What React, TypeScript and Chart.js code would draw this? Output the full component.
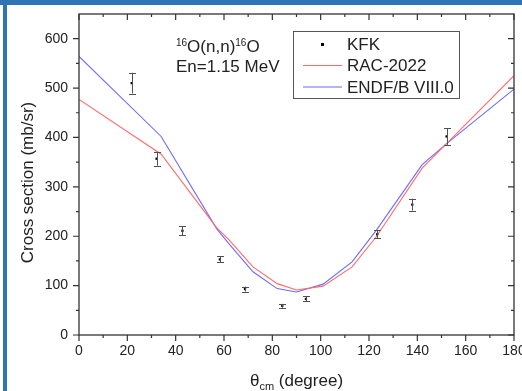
import React, { useEffect, useRef } from "react";
import { Chart, registerables } from "chart.js";

Chart.register(...registerables);

// ---- data ----
const kfkAngles = [21.8, 32.1, 42.8, 58.3, 68.7, 84.1, 93.9, 123.4, 137.9, 152.1];
const kfkValues = [510, 357, 211, 153, 93, 59, 73, 204, 264, 402];
const kfkErrors = [21, 14, 9, 6, 5, 4, 5, 8, 12, 17];

const racAngles = [0, 34, 57, 62, 72, 82, 90, 101, 113, 123, 142, 152, 180];
const racValues = [477, 366, 217, 193, 138, 104, 91, 99, 138, 199, 338, 387, 525];

const endfAngles = [0, 34, 57, 62, 72, 82, 90, 101, 113, 123, 142, 152, 180];
const endfValues = [564, 402, 215, 185, 128, 94, 87, 103, 148, 212, 345, 387, 498];

const xTickValues = [0, 20, 40, 60, 80, 100, 120, 140, 160, 180];
const yTickValues = [0, 100, 200, 300, 400, 500, 600];

const seriesLabels = ["KFK", "RAC-2022", "ENDF/B VIII.0"];

const FONT = "'Liberation Sans', Arial, sans-serif";

const decorPlugin = {
  id: "decor",
  afterDatasetsDraw(chart: any) {
    const ctx = chart.ctx;
    const xs = chart.scales.x;
    const ys = chart.scales.y;

    // error bars
    ctx.save();
    ctx.strokeStyle = "#505050";
    ctx.lineWidth = 1;
    kfkAngles.forEach((a, i) => {
      const px = Math.round(xs.getPixelForValue(a)) + 0.5;
      const y1 = ys.getPixelForValue(kfkValues[i] - kfkErrors[i]);
      const y2 = ys.getPixelForValue(kfkValues[i] + kfkErrors[i]);
      ctx.beginPath();
      ctx.moveTo(px, y1);
      ctx.lineTo(px, y2);
      ctx.moveTo(px - 3.5, Math.round(y1) + 0.5);
      ctx.lineTo(px + 3.5, Math.round(y1) + 0.5);
      ctx.moveTo(px - 3.5, Math.round(y2) + 0.5);
      ctx.lineTo(px + 3.5, Math.round(y2) + 0.5);
      ctx.stroke();
    });
    ctx.restore();
  },
  afterDraw(chart: any) {
    const ctx = chart.ctx;
    const xs = chart.scales.x;
    const ys = chart.scales.y;
    const { left, right, top, bottom } = chart.chartArea;
    ctx.save();
    // frame
    ctx.strokeStyle = "#333";
    ctx.lineWidth = 1.3;
    ctx.strokeRect(left, top, right - left, bottom - top);
    ctx.lineWidth = 1.2;
    ctx.beginPath();
    for (let v = 0; v <= 180; v += 10) {
      const px = xs.getPixelForValue(v);
      const len = v % 20 === 0 ? 6 : 3;
      ctx.moveTo(px, bottom);
      ctx.lineTo(px, bottom + len);
      ctx.moveTo(px, top);
      ctx.lineTo(px, top + len);
    }
    for (let v = 0; v <= 600; v += 50) {
      const py = ys.getPixelForValue(v);
      const len = v % 100 === 0 ? 6 : 3;
      ctx.moveTo(left, py);
      ctx.lineTo(left - len, py);
      ctx.moveTo(right, py);
      ctx.lineTo(right - len, py);
    }
    ctx.stroke();

    // axis titles
    ctx.fillStyle = "#222";
    ctx.font = `17px ${FONT}`;
    ctx.textBaseline = "middle";
    ctx.textAlign = "center";
    ctx.save();
    ctx.translate(left - 51, (top + bottom) / 2 + 8);
    ctx.rotate(-Math.PI / 2);
    ctx.fillText("Cross section (mb/sr)", 0, 0);
    ctx.restore();

    ctx.textAlign = "left";
    ctx.textBaseline = "alphabetic";
    const t1 = "θ", t2 = "cm", t3 = " (degree)";
    ctx.font = `17px ${FONT}`;
    const w1 = ctx.measureText(t1).width;
    const w3 = ctx.measureText(t3).width;
    ctx.font = `11px ${FONT}`;
    const w2 = ctx.measureText(t2).width;
    const total = w1 + w2 + w3;
    let sx = (left + right) / 2 - total / 2;
    const by = bottom + 51;
    ctx.font = `17px ${FONT}`;
    ctx.fillText(t1, sx, by);
    sx += w1;
    ctx.font = `11px ${FONT}`;
    ctx.fillText(t2, sx, by + 4);
    sx += w2;
    ctx.font = `17px ${FONT}`;
    ctx.fillText(t3, sx, by);

    // annotation
    let ax = left + 97;
    const ab1 = top + 38;
    const parts: [string, boolean][] = [["16", true], ["O(n,n)", false], ["16", true], ["O", false]];
    parts.forEach(([s, sup]) => {
      ctx.font = sup ? `10px ${FONT}` : `17px ${FONT}`;
      ctx.fillText(s, ax, sup ? ab1 - 6 : ab1);
      ax += ctx.measureText(s).width;
    });
    ctx.font = `17px ${FONT}`;
    ctx.fillText("En=1.15 MeV", left + 97, top + 58);

    // legend
    const lx = 293.5, ly = 31.5, lw = 166, lh = 67;
    ctx.fillStyle = "#fff";
    ctx.fillRect(lx, ly, lw, lh);
    ctx.strokeStyle = "#555";
    ctx.lineWidth = 1;
    ctx.strokeRect(lx, ly, lw, lh);
    const rows = [44.5, 65.5, 87];
    const ds = chart.data.datasets;
    ctx.fillStyle = "#000";
    ctx.fillRect(321, rows[0] - 1.5, 3, 3);
    ctx.lineWidth = 1.2;
    ctx.strokeStyle = ds[1].borderColor;
    ctx.beginPath();
    ctx.moveTo(303, rows[1]);
    ctx.lineTo(342, rows[1]);
    ctx.stroke();
    ctx.strokeStyle = ds[2].borderColor;
    ctx.beginPath();
    ctx.moveTo(303, rows[2]);
    ctx.lineTo(342, rows[2]);
    ctx.stroke();
    ctx.fillStyle = "#222";
    ctx.font = `17px ${FONT}`;
    ctx.textBaseline = "middle";
    ds.forEach((d: any, i: number) => {
      ctx.fillText(d.label, 347, rows[i] + 1);
    });
    ctx.restore();
  },
};

export default function App() {
  const ref = useRef<HTMLCanvasElement>(null);
  useEffect(() => {
    if (!ref.current) return;
    const chart = new Chart(ref.current, {
      type: "scatter",
      data: {
        datasets: [
          {
            label: seriesLabels[0],
            data: kfkAngles.map((a, i) => ({ x: a, y: kfkValues[i] })),
            showLine: false,
            pointStyle: "rect",
            pointRadius: 1.6,
            backgroundColor: "#000",
            borderColor: "#000",
            borderWidth: 0,
          },
          {
            label: seriesLabels[1],
            data: racAngles.map((a, i) => ({ x: a, y: racValues[i] })),
            showLine: true,
            borderColor: "#ff6b6b",
            borderWidth: 1.1,
            pointRadius: 0,
            tension: 0,
          },
          {
            label: seriesLabels[2],
            data: endfAngles.map((a, i) => ({ x: a, y: endfValues[i] })),
            showLine: true,
            borderColor: "#6b6bff",
            borderWidth: 1.1,
            pointRadius: 0,
            tension: 0,
          },
        ],
      },
      options: {
        animation: false,
        responsive: false,
        maintainAspectRatio: false,
        layout: { padding: { left: 0, top: 14, right: 8, bottom: 0 } },
        plugins: { legend: { display: false }, tooltip: { enabled: false } },
        scales: {
          x: {
            type: "linear",
            min: 0,
            max: 180,
            grid: { display: false, drawTicks: false },
            border: { display: false },
            afterBuildTicks: (s: any) => {
              s.ticks = xTickValues.map((v) => ({ value: v }));
            },
            afterFit: (s: any) => {
              s.height = 56;
              s.paddingLeft = 0;
              s.paddingRight = 0;
            },
            ticks: {
              padding: 8,
              color: "#222",
              font: { family: FONT, size: 14 },
              maxRotation: 0,
              autoSkip: false,
            },
          },
          y: {
            type: "linear",
            min: 0,
            max: 650,
            grid: { display: false, drawTicks: false },
            border: { display: false },
            afterBuildTicks: (s: any) => {
              s.ticks = yTickValues.map((v) => ({ value: v }));
            },
            afterFit: (s: any) => {
              s.width = 79;
              s.paddingTop = 0;
              s.paddingBottom = 0;
            },
            ticks: {
              padding: 11,
              color: "#222",
              font: { family: FONT, size: 14 },
              autoSkip: false,
            },
          },
        },
      },
      plugins: [decorPlugin],
    } as any);
    return () => chart.destroy();
  }, []);

  return (
    <div style={{ position: "fixed", left: 0, top: 0, width: 522, height: 391, background: "#fff", overflow: "hidden" }}>
      <canvas ref={ref} width={522} height={391} style={{ position: "absolute", left: 0, top: 0 }} />
      <div style={{ position: "absolute", left: 0, top: 0, width: 522, height: 5, background: "#2e75b6" }} />
      <div style={{ position: "absolute", left: 3, top: 0, width: 4, height: 391, background: "#2e75b6" }} />
    </div>
  );
}
